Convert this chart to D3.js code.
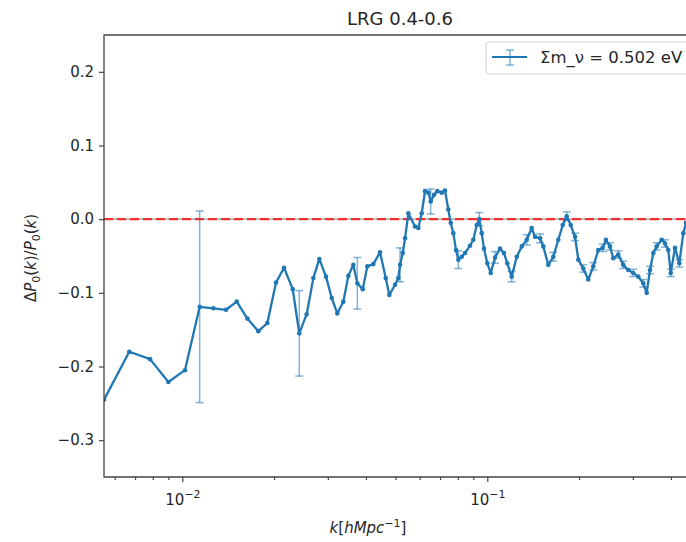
<!DOCTYPE html>
<html>
<head>
<meta charset="utf-8">
<script src="https://cdn.jsdelivr.net/npm/d3@7"></script>
<style>
  body { margin: 0; background: #fff; }
  text { font-family: "DejaVu Sans", sans-serif; fill: #262626; }
</style>
</head>
<body>
<div id="content"></div>
<script>
// wavenumber k and relative difference
var kVals = [0.00554, 0.0067, 0.00784, 0.0090, 0.0102, 0.0114, 0.01264, 0.01391, 0.01508, 0.01634,
  0.01775, 0.0190, 0.02029, 0.02155, 0.02301, 0.02418, 0.02557, 0.02689, 0.02813, 0.02959,
  0.03089, 0.03223, 0.03372, 0.03502, 0.03637, 0.03748, 0.03904, 0.04043, 0.0423, 0.04449,
  0.04645, 0.04773, 0.04983, 0.05108, 0.05175, 0.05281, 0.05374, 0.0551, 0.05794, 0.0594,
  0.06095, 0.06248, 0.06407, 0.06523, 0.06687, 0.06857, 0.07088, 0.07267, 0.0745, 0.07586,
  0.07737, 0.07897, 0.08035, 0.08244, 0.08452, 0.08777, 0.08998, 0.09232, 0.09415, 0.09585,
  0.09754, 0.1000, 0.1026, 0.1060, 0.1101, 0.1134, 0.1163, 0.1202, 0.1249, 0.1297,
  0.1347, 0.1398, 0.1434, 0.1489, 0.1526, 0.1585, 0.1646, 0.1709, 0.1767, 0.1821,
  0.1877, 0.1939, 0.1988, 0.2064, 0.2143, 0.2226, 0.2311, 0.2389, 0.2449, 0.2524,
  0.2588, 0.2688, 0.2791, 0.2899, 0.3010, 0.3126, 0.3246, 0.3331, 0.3415, 0.3502,
  0.3592, 0.3731, 0.3825, 0.3921, 0.3993, 0.4125, 0.4261, 0.4392, 0.4483];
var dP = [-0.245, -0.180, -0.190, -0.221, -0.205, -0.119, -0.121, -0.123, -0.112, -0.135,
  -0.152, -0.141, -0.086, -0.066, -0.095, -0.155, -0.129, -0.080, -0.054, -0.078,
  -0.107, -0.128, -0.112, -0.077, -0.062, -0.087, -0.095, -0.064, -0.061, -0.045,
  -0.080, -0.103, -0.089, -0.080, -0.062, -0.046, -0.026, 0.008, -0.010, -0.012,
  0.008, 0.038, 0.036, 0.024, 0.033, 0.038, 0.036, 0.039, 0.013, -0.005,
  -0.019, -0.042, -0.055, -0.051, -0.046, -0.036, -0.028, -0.008, 0.000, -0.019,
  -0.040, -0.060, -0.073, -0.052, -0.040, -0.046, -0.060, -0.078, -0.051, -0.037,
  -0.028, -0.012, -0.024, -0.026, -0.037, -0.062, -0.051, -0.028, -0.008, 0.004,
  -0.008, -0.024, -0.055, -0.067, -0.082, -0.064, -0.042, -0.039, -0.028, -0.037,
  -0.053, -0.048, -0.062, -0.069, -0.073, -0.078, -0.087, -0.100, -0.069, -0.046,
  -0.037, -0.028, -0.033, -0.042, -0.073, -0.039, -0.060, -0.019, -0.005];
// points that carry an error bar, and its half height
var errIdx = [5, 15, 25, 34, 43, 52, 58, 63, 67, 70, 73, 76, 79, 81, 83, 85, 87, 89, 91, 92, 94, 96, 98, 100, 102, 104, 106];
var errVal = [0.13, 0.058, 0.035, 0.023, 0.017, 0.012, 0.009, 0.008, 0.007, 0.007, 0.006, 0.006, 0.006, 0.005, 0.005, 0.005, 0.005, 0.005, 0.005, 0.005, 0.005, 0.005, 0.005, 0.005, 0.005, 0.005, 0.005];

var yTicks = [-0.3, -0.2, -0.1, 0.0, 0.1, 0.2];
var xMajor = [0.01, 0.1];
var xMinor = [0.006, 0.007, 0.008, 0.009, 0.02, 0.03, 0.04, 0.05, 0.06, 0.07, 0.08, 0.09, 0.2, 0.3, 0.4];

var W = 686, H = 542;
var plot = {l: 104, r: 697, t: 35, b: 477};
var blue = "#1f77b4";

var svg = d3.select("#content")
            .append("svg")
            .attr("width", W)
            .attr("height", H);

var x = d3.scaleLog().domain([0.005536, 0.487]).range([plot.l, plot.r]);
var y = d3.scaleLinear().domain([-0.35, 0.25]).range([plot.b, plot.t]);

svg.append("clipPath").attr("id", "clip")
   .append("rect")
   .attr("x", plot.l).attr("y", plot.t)
   .attr("width", plot.r - plot.l).attr("height", plot.b - plot.t);

var data = kVals.map(function(k, i) { return {k: k, v: dP[i]}; });

// zero line
var zero = svg.append("g").attr("clip-path", "url(#clip)");
zero.append("line")
    .attr("x1", plot.l).attr("x2", plot.r)
    .attr("y1", y(0)).attr("y2", y(0))
    .attr("stroke", "#999").attr("stroke-width", 1.2);
zero.append("line")
    .attr("x1", plot.l).attr("x2", plot.r)
    .attr("y1", y(0)).attr("y2", y(0))
    .attr("stroke", "#f03030").attr("stroke-width", 2.4)
    .attr("stroke-dasharray", "9,4");

var g = svg.append("g").attr("clip-path", "url(#clip)");

// error bars
var bars = g.selectAll(".err")
            .data(errIdx.map(function(idx, i) { return {k: kVals[idx], v: dP[idx], e: errVal[i]}; }))
            .enter().append("g")
            .attr("stroke", blue).attr("stroke-opacity", 0.55).attr("stroke-width", 1.5);
bars.append("line")
    .attr("x1", function(d) { return x(d.k); }).attr("x2", function(d) { return x(d.k); })
    .attr("y1", function(d) { return y(d.v - d.e); }).attr("y2", function(d) { return y(d.v + d.e); });
bars.append("line")
    .attr("x1", function(d) { return x(d.k) - 4; }).attr("x2", function(d) { return x(d.k) + 4; })
    .attr("y1", function(d) { return y(d.v - d.e); }).attr("y2", function(d) { return y(d.v - d.e); });
bars.append("line")
    .attr("x1", function(d) { return x(d.k) - 4; }).attr("x2", function(d) { return x(d.k) + 4; })
    .attr("y1", function(d) { return y(d.v + d.e); }).attr("y2", function(d) { return y(d.v + d.e); });

var line = d3.line()
             .x(function(d) { return x(d.k); })
             .y(function(d) { return y(d.v); });
g.append("path")
 .datum(data)
 .attr("d", line)
 .attr("fill", "none")
 .attr("stroke", blue)
 .attr("stroke-width", 2.3)
 .attr("stroke-linejoin", "round");
g.selectAll("circle")
 .data(data)
 .enter().append("circle")
 .attr("cx", function(d) { return x(d.k); })
 .attr("cy", function(d) { return y(d.v); })
 .attr("r", 2.3)
 .attr("fill", blue);

// axes
var axisY = d3.axisLeft(y).tickValues(yTicks).tickSize(5).tickPadding(5)
              .tickFormat(d3.format(".1f"));
var axisYG = svg.append("g")
                .attr("transform", "translate(" + plot.l + ",0)")
                .call(axisY);

var axisXG = svg.append("g")
                .attr("transform", "translate(0," + plot.b + ")")
                .call(d3.axisBottom(x).tickValues(xMajor).tickSize(5).tickPadding(8).tickFormat(""));
svg.append("g")
   .attr("transform", "translate(0," + plot.b + ")")
   .call(d3.axisBottom(x).tickValues(xMinor).tickSize(3).tickFormat(""))
   .select(".domain").remove();

axisXG.selectAll(".tick").append("text")
      .attr("y", 28).attr("text-anchor", "middle")
      .style("font-size", "15px")
      .each(function(d) {
        var t = d3.select(this);
        t.append("tspan").text("10");
        t.append("tspan").attr("dy", -7).style("font-size", "11px").text("\u2212" + Math.round(-Math.log10(d)));
      });

svg.selectAll(".tick line").attr("stroke", "#444").attr("stroke-width", 1.2);
svg.selectAll(".domain").remove();
axisYG.selectAll("text").style("font-size", "15px").attr("fill", "#262626");

// spines
svg.append("path")
   .attr("d", "M" + plot.r + "," + plot.t + "H" + plot.l + "V" + plot.b + "H" + plot.r)
   .attr("fill", "none").attr("stroke", "#444").attr("stroke-width", 1.3);

// labels
svg.append("text").attr("x", 400).attr("y", 25).attr("text-anchor", "middle")
   .style("font-size", "18px").text("LRG 0.4-0.6");

var xl = svg.append("text").attr("x", 368).attr("y", 533).attr("text-anchor", "middle").style("font-size", "15px");
xl.append("tspan").style("font-style", "italic").text("k");
xl.append("tspan").text("[");
xl.append("tspan").style("font-style", "italic").text("hMpc");
xl.append("tspan").attr("dy", -6).style("font-size", "11px").text("\u22121");
xl.append("tspan").attr("dy", 6).text("]");

var yl = svg.append("text").attr("transform", "translate(36,258) rotate(-90)")
            .attr("text-anchor", "middle").style("font-size", "15px");
yl.append("tspan").text("\u0394");
yl.append("tspan").style("font-style", "italic").text("P");
yl.append("tspan").attr("dy", 4).style("font-size", "11px").text("0");
yl.append("tspan").attr("dy", -4).text("(");
yl.append("tspan").style("font-style", "italic").text("k");
yl.append("tspan").text(")/");
yl.append("tspan").style("font-style", "italic").text("P");
yl.append("tspan").attr("dy", 4).style("font-size", "11px").text("0");
yl.append("tspan").attr("dy", -4).text("(");
yl.append("tspan").style("font-style", "italic").text("k");
yl.append("tspan").text(")");

// legend
var leg = svg.append("g");
leg.append("rect").attr("x", 486).attr("y", 42).attr("width", 220).attr("height", 32).attr("rx", 3)
   .attr("fill", "#fff").attr("fill-opacity", 0.8).attr("stroke", "#d0d0d0");
leg.append("line").attr("x1", 492).attr("x2", 527).attr("y1", 57).attr("y2", 57)
   .attr("stroke", blue).attr("stroke-width", 2);
leg.append("line").attr("x1", 510).attr("x2", 510).attr("y1", 50).attr("y2", 65)
   .attr("stroke", blue).attr("stroke-opacity", 0.55).attr("stroke-width", 1.5);
leg.append("line").attr("x1", 506).attr("x2", 514).attr("y1", 50).attr("y2", 50)
   .attr("stroke", blue).attr("stroke-opacity", 0.55).attr("stroke-width", 1.5);
leg.append("line").attr("x1", 506).attr("x2", 514).attr("y1", 65).attr("y2", 65)
   .attr("stroke", blue).attr("stroke-opacity", 0.55).attr("stroke-width", 1.5);
leg.append("text").attr("x", 540).attr("y", 63).style("font-size", "16.5px").text("\u03a3m_\u03bd = 0.502 eV");
</script>
</body>
</html>
